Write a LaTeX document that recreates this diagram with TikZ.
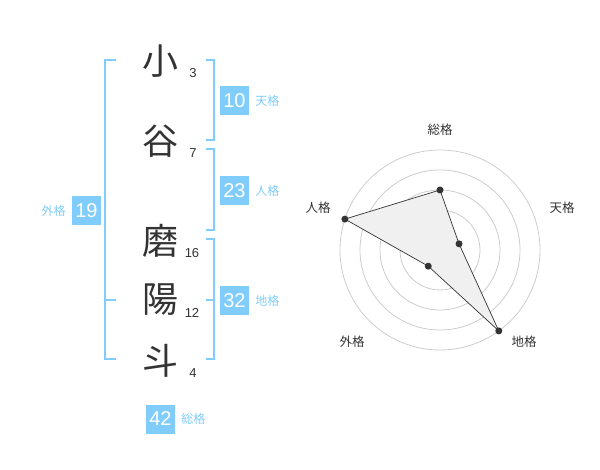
\documentclass[tikz,border=0pt]{standalone}
\usepackage{fontspec}
\usetikzlibrary{positioning}
\setmainfont{Liberation Sans}
\newfontfamily\jp{Noto Sans CJK JP}
\definecolor{kaku}{RGB}{128,204,250}
\definecolor{sumi}{RGB}{51,51,51}

\begin{document}
\begin{tikzpicture}[x=1pt,y=-1pt,
    kanji/.style={font=\jp\fontsize{36}{36}\selectfont,text=sumi,inner sep=0pt},
    kakusu/.style={font=\fontsize{13}{13}\selectfont,text=sumi,inner sep=0pt},
    numbox/.style={fill=kaku,text=white,minimum size=29pt,inner sep=0pt,font=\fontsize{20}{20}\selectfont},
    kakuname/.style={font=\jp\fontsize{12}{12}\selectfont,text=kaku,inner sep=0pt},
    radarname/.style={font=\jp\fontsize{12.5}{12.5}\selectfont,text=sumi,inner sep=0pt},
    bracket/.style={draw=kaku,line width=2pt},
    ring/.style={draw=black!20,line width=0.8pt}]
    \useasboundingbox (0,0) rectangle (600,470); % page
    % name and stroke counts
    \node[kanji] (c1) at (160,61) {小};
    \node[kanji] (c2) at (160,141) {谷};
    \node[kanji] (c3) at (160,241) {磨};
    \node[kanji] (c4) at (160,300) {陽};
    \node[kanji] (c5) at (160,361) {斗};
    \node[kakusu] (s1) at (193,73) {3};
    \node[kakusu] (s2) at (193,153) {7};
    \node[kakusu] (s3) at (192,253) {16};
    \node[kakusu] (s4) at (192,313) {12};
    \node[kakusu] (s5) at (193,373) {4};
    % brackets
    \draw[bracket] (116,60) -- (105,60) -- (105,359) -- (116,359); % gaikaku
    \draw[bracket] (105,300) -- (116,300);
    \draw[bracket] (206,60) -- (214,60) -- (214,140) -- (206,140); % tenkaku
    \draw[bracket] (206,149) -- (214,149) -- (214,230) -- (206,230); % jinkaku
    \draw[bracket] (206,239) -- (214,239) -- (214,359) -- (206,359); % chikaku
    \draw[bracket] (206,300) -- (214,300);
    % totals
    \node[numbox] (ten) at (234.5,100.5) {10};
    \node[kakuname,right=6pt of ten] (tenl) {天格};
    \node[numbox] (jin) at (234.5,190.5) {23};
    \node[kakuname,right=6pt of jin] (jinl) {人格};
    \node[numbox] (chi) at (234.5,300.5) {32};
    \node[kakuname,right=6pt of chi] (chil) {地格};
    \node[numbox] (gai) at (86.5,210.5) {19};
    \node[kakuname,left=6pt of gai] (gail) {外格};
    \node[numbox] (sou) at (160.5,419) {42};
    \node[kakuname,right=6pt of sou] (soul) {総格};
    % radar chart
    \begin{scope}[shift={(440,250)}]
        \foreach \r in {20,40,60,80,100}
            \draw[ring] (0,0) circle [radius=\r pt]; % rings
        \fill[black!20] (0,0) circle [radius=4pt]; % centre
        \coordinate (rsou) at (90:60pt);
        \coordinate (rten) at (18:20pt);
        \coordinate (rchi) at (-54:100pt);
        \coordinate (rgai) at (234:20pt);
        \coordinate (rjin) at (162:100pt);
        \filldraw[fill=black!6,draw=sumi,line width=0.7pt] (rsou) -- (rten) -- (rchi) -- (rgai) -- (rjin) -- cycle;
        \foreach \p in {rsou,rten,rchi,rgai,rjin}
            \fill[sumi] (\p) circle [radius=3.5pt]; % points
    \end{scope}
    \node[radarname] (lsou) at (440,130) {総格};
    \node[radarname] (lten) at (562,208) {天格};
    \node[radarname] (ljin) at (318,208) {人格};
    \node[radarname] (lgai) at (352,342) {外格};
    \node[radarname] (lchi) at (524,342) {地格};
\end{tikzpicture}
\end{document}
